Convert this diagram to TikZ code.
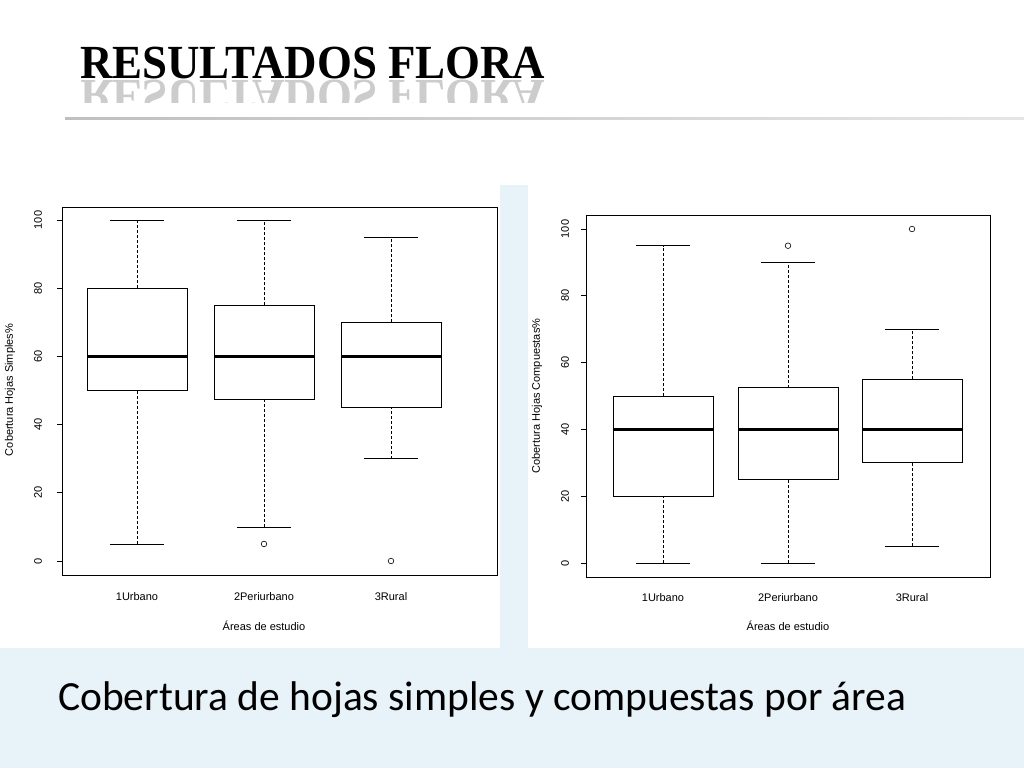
\documentclass[tikz,border=0pt]{standalone}
\usepackage{fontspec}
\setmainfont{Liberation Serif}
\newfontfamily\plotf{Liberation Sans}
\newfontfamily\capf{Carlito}
\definecolor{band}{RGB}{232,242,249}
\begin{document}
\begin{tikzpicture}[x=1pt,y=-1pt,
  frm/.style={line width=1pt},
  whisk/.style={densely dashed,line width=0.7pt},
  bxs/.style={line width=0.8pt,fill=white},
  lab/.style={font=\plotf\fontsize{11}{13}\selectfont,inner sep=0pt}]
\useasboundingbox (0,0) rectangle (1024,768);
\fill[white] (0,0) rectangle (1024,768);
\fill[band] (0,648) rectangle (1024,768);
\fill[band] (500,185) rectangle (528,648);
% title
\node[anchor=base west,inner sep=0pt,font=\bfseries\fontsize{44}{44}\selectfont] (title) at (80,78) {\scalebox{1.02}[1.08]{RESULTADOS FLORA}};
\begin{scope}
\clip (70,79) rectangle (560,102);
\node[anchor=base west,inner sep=0pt,yscale=-1,text=black!20,font=\bfseries\fontsize{44}{44}\selectfont] (refl) at (80,80) {\scalebox{1.02}[1.08]{RESULTADOS FLORA}};
\end{scope}
\shade[left color=black!25,right color=black!10] (65,117) rectangle (1024,119);
\newcommand\bxp[6]{%
  \draw[whisk] (#1,\yz-#5*\ys) -- (#1,\yz-#2*\ys);
  \draw[whisk] (#1,\yz-#4*\ys) -- (#1,\yz-#6*\ys);
  \draw[line width=0.8pt] (#1-27,\yz-#5*\ys) -- (#1+27,\yz-#5*\ys);
  \draw[line width=0.8pt] (#1-27,\yz-#6*\ys) -- (#1+27,\yz-#6*\ys);
  \draw[bxs] (#1-50,\yz-#2*\ys) rectangle (#1+50,\yz-#4*\ys);
  \draw[line width=2.4pt] (#1-50,\yz-#3*\ys) -- (#1+50,\yz-#3*\ys);}
% left plot
\def\yz{561}\def\ys{3.41}
\draw[frm] (62,207) rectangle (497,575);
\foreach \v in {0,20,...,100}{
  \draw[line width=0.7pt] (57,\yz-\v*\ys) -- (62,\yz-\v*\ys);
  \node[lab,rotate=90] at (38,\yz-\v*\ys) {\v};}
\bxp{137}{50}{60}{80}{5}{100}
\bxp{264}{47.5}{60}{75}{10}{100}
\bxp{391}{45}{60}{70}{30}{95}
\draw[line width=0.6pt] (264,\yz-5*\ys) circle (2.8);
\draw[line width=0.6pt] (391,\yz-0*\ys) circle (2.8);
\node[lab] (l1) at (137,597) {1Urbano};
\node[lab] (l2) at (264,597) {2Periurbano};
\node[lab] (l3) at (391,597) {3Rural};
\node[lab] (lx) at (264,626) {Áreas de estudio};
\node[lab,rotate=90] (ly) at (10,390) {Cobertura Hojas Simples\%};
% right plot
\def\yz{563}\def\ys{3.34}
\draw[frm] (586,215) rectangle (990,577);
\foreach \v in {0,20,...,100}{
  \draw[line width=0.7pt] (581,\yz-\v*\ys) -- (586,\yz-\v*\ys);
  \node[lab,rotate=90] at (565,\yz-\v*\ys) {\v};}
\bxp{663}{20}{40}{50}{0}{95}
\bxp{788}{25}{40}{52.5}{0}{90}
\bxp{912}{30}{40}{55}{5}{70}
\draw[line width=0.6pt] (788,\yz-95*\ys) circle (2.8);
\draw[line width=0.6pt] (912,\yz-100*\ys) circle (2.8);
\node[lab] (r1) at (663,598) {1Urbano};
\node[lab] (r2) at (788,598) {2Periurbano};
\node[lab] (r3) at (912,598) {3Rural};
\node[lab] (rx) at (788,626) {Áreas de estudio};
\node[lab,rotate=90] (ry) at (537,396) {Cobertura Hojas Compuestas\%};
% caption
\node[anchor=base west,inner sep=0pt,font=\capf\fontsize{41.5}{46}\selectfont] (cap) at (58,710) {Cobertura de hojas simples y compuestas por área};
\end{tikzpicture}
\end{document}
